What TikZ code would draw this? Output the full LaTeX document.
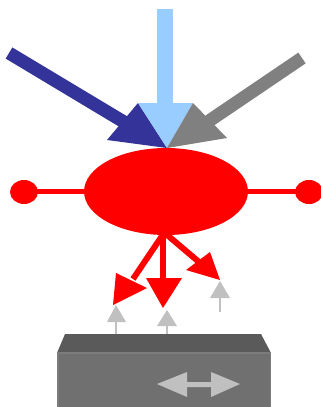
\documentclass[tikz,border=0pt]{standalone}
\usetikzlibrary{calc}
\definecolor{dkblue}{HTML}{333399}
\definecolor{ltblue}{HTML}{99CCFF}
\definecolor{midgray}{HTML}{808080}
\definecolor{pale}{HTML}{C0C0C0}
\definecolor{boxtop}{HTML}{5A5A5A}
\definecolor{boxfront}{HTML}{707070}
\definecolor{boxedge}{HTML}{7C7C7C}
\tikzset{
  redline/.style={draw=red, line width=6pt},
  redhead/.style={fill=red},
  paleline/.style={draw=pale, line width=2pt},
  palehead/.style={fill=pale},
}
\begin{document}
\begin{tikzpicture}[x=1pt,y=-1pt]
\useasboundingbox (0,0) rectangle (321,407);
% incoming arrows
\draw[dkblue, line width=13pt] (9,53) -- (124,122);
\fill[dkblue] (107,140) -- (138,103) -- (167,148) -- cycle;
\draw[ltblue, line width=16pt] (165,9) -- (165,104);
\fill[ltblue] (138,103) -- (193,103) -- (167,148) -- cycle;
\draw[midgray, line width=13pt] (302,58) -- (209,121);
\fill[midgray] (193,103) -- (227,138) -- (167,148) -- cycle;
% red element
\draw[red, line width=5pt] (24,191) -- (309,191);
\fill[red] (24,192) ellipse [x radius=14, y radius=12];
\fill[red] (309,192) ellipse [x radius=14, y radius=12];
\fill[red] (166,191.5) ellipse [x radius=82, y radius=43.5];
% red outgoing arrows
\draw[redline] (164,233) -- (133,279);
\fill[redhead] (116,273) -- (147,288) -- (113,305) -- cycle;
\draw[redline] (163,233) -- (163,280);
\fill[redhead] (146,278) -- (182,278) -- (163,308) -- cycle;
\draw[redline] (166,234) -- (199,262);
\fill[redhead] (186,270) -- (210,252) -- (220,280) -- cycle;
% pale small arrows
\draw[paleline] (116,320) -- (116,335);
\fill[palehead] (107,322) -- (126,322) -- (116,305) -- cycle;
\draw[paleline] (167,324) -- (167,338);
\fill[palehead] (157,326) -- (177,326) -- (167,310) -- cycle;
\draw[paleline] (220,296) -- (220,312);
\fill[palehead] (210,298) -- (230,298) -- (220,281) -- cycle;
% box
\fill[boxtop] (65,334) -- (261,334) -- (271,353) -- (57,353) -- cycle;
\filldraw[fill=boxfront, draw=boxedge, line width=1.5pt] (57.75,353) rectangle (270.25,408);
% double arrow
\fill[pale] (157,384) -- (187,372) -- (187,382) -- (211,382) -- (211,372) -- (240,384)
  -- (211,397) -- (211,387) -- (187,387) -- (187,397) -- cycle;
\end{tikzpicture}
\end{document}
